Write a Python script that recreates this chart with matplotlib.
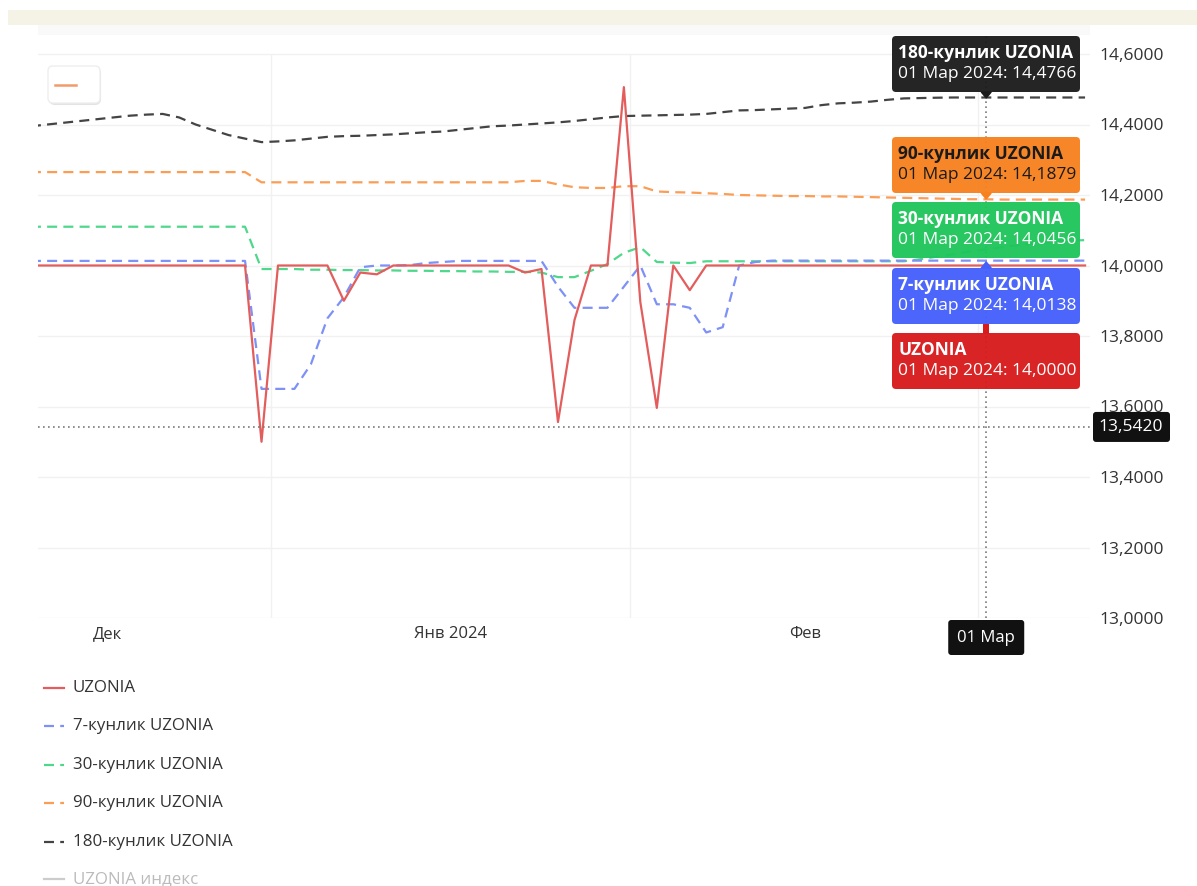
import matplotlib.pyplot as plt
import matplotlib.patches as mpatches
from matplotlib.ticker import FuncFormatter
import numpy as np

plt.rcParams['font.family'] = ['Open Sans', 'DejaVu Sans']

W, H = 1197, 886

# trading-day (bar) index of every point on the chart
bar_idx = np.arange(65)

uzonia = ([14.0] * 14
          + [13.50, 14.0, 14.0, 14.0, 14.0, 13.90, 13.98, 13.975]
          + [14.0] * 8
          + [13.98, 13.99, 13.556, 13.845, 14.0, 14.0, 14.506, 13.896, 13.596, 14.0, 13.93]
          + [14.0] * 24)

uzonia_7 = ([14.013] * 14
            + [13.65, 13.65, 13.65, 13.72, 13.85, 13.91, 13.995, 14.0, 14.0, 14.001, 14.007, 14.01]
            + [14.013] * 6
            + [13.94, 13.88, 13.88, 13.88, 13.94, 14.0, 13.89, 13.89, 13.88, 13.81, 13.825, 14.0, 14.01]
            + [14.0138] * 20)

uzonia_30 = ([14.11] * 14
             + [13.99, 13.99, 13.99, 13.988, 13.988, 13.987, 13.987, 13.986, 13.986, 13.985,
                13.985, 13.984, 13.984, 13.983, 13.983, 13.982, 13.982]
             + [13.98, 13.967, 13.967, 13.985, 14.004, 14.036, 14.052, 14.01, 14.008, 14.007]
             + [14.012] * 13
             + [14.018, 14.025, 14.032, 14.04, 14.0456, 14.052, 14.058, 14.063, 14.067, 14.07, 14.072])

uzonia_90 = ([14.265] * 14
             + [14.236] * 16 + [14.24, 14.24]
             + [14.23, 14.222, 14.22, 14.22, 14.225, 14.225, 14.21, 14.208, 14.207, 14.205,
                14.203, 14.2, 14.199, 14.198, 14.197, 14.197, 14.196, 14.196, 14.195, 14.194,
                14.193, 14.192, 14.191, 14.19, 14.189, 14.188, 14.1879]
             + [14.187] * 6)

uzonia_180 = [14.395, 14.40, 14.405, 14.41, 14.415, 14.42, 14.425, 14.428, 14.43, 14.42,
              14.40, 14.385, 14.37, 14.36, 14.35, 14.352, 14.355, 14.36, 14.365, 14.367,
              14.368, 14.37, 14.372, 14.375, 14.378, 14.38, 14.385, 14.39, 14.395, 14.397,
              14.40, 14.403, 14.406, 14.41, 14.415, 14.42, 14.424, 14.425, 14.426, 14.427,
              14.428, 14.43, 14.435, 14.44, 14.441, 14.443, 14.445, 14.447, 14.455, 14.46,
              14.462, 14.465, 14.47, 14.474, 14.475, 14.476, 14.4766, 14.4766, 14.4766, 14.4766,
              14.4766, 14.4766, 14.4766, 14.4766, 14.4766]

series_names = ['UZONIA', '7-кунлик UZONIA', '30-кунлик UZONIA', '90-кунлик UZONIA',
                '180-кунлик UZONIA', 'UZONIA индекс']
series_colors = ['#e35d5d', '#7d91f6', '#4fd88b', '#fb9d55', '#444444', '#cccccc']
series_dashed = [False, True, True, True, True, False]

# month labels and vertical grid positions (in bar index units)
month_labels = ['Дек', 'Янв 2024', 'Фев']
month_pos = [4.62, 25.5, 47.0]
vgrid_pos = [14.58, 36.4, 57.5]

y_ticks = [13.0, 13.2, 13.4, 13.6, 13.8, 14.0, 14.2, 14.4, 14.6]

# crosshair / tooltip
cross_idx = 58
cross_y = 13.542
cross_date = '01 Мар'
tip_date = '01 Мар 2024'
tip_names = ['180-кунлик UZONIA', '90-кунлик UZONIA', '30-кунлик UZONIA', '7-кунлик UZONIA', 'UZONIA']
tip_values = [14.4766, 14.1879, 14.0456, 14.0138, 14.0000]
tip_colors = ['#1c1c1c', '#f7811f', '#1fc55c', '#4460fb', '#d81b1d']
tip_text_colors = ['white', '#1a1a1a', 'white', 'white', 'white']
tip_tops = [36, 137, 202, 268, 333]


def comma(v, pos=None):
    return f'{v:.4f}'.replace('.', ',')


fig = plt.figure(figsize=(W / 100, H / 100), dpi=100)
fig.patch.set_facecolor('white')

# bands at the top of the page
ov = fig.add_axes([0, 0, 1, 1], zorder=0)
ov.set_xlim(0, W)
ov.set_ylim(H, 0)
ov.axis('off')
ov.add_patch(mpatches.Rectangle((8, 10), W - 8, 15, color='#f5f3e6', lw=0))
ov.add_patch(mpatches.Rectangle((38, 25), 1052, 10, color='#f9f9f9', lw=0))

ax_l, ax_r, ax_t, ax_b = 38, 1090, 35, 618
ax = fig.add_axes([ax_l / W, 1 - ax_b / H, (ax_r - ax_l) / W, (ax_b - ax_t) / H], zorder=1)
ax.patch.set_alpha(0)

all_series = [uzonia, uzonia_7, uzonia_30, uzonia_90, uzonia_180]
# draw the long averages first so UZONIA sits on top
for k in [4, 3, 2, 1, 0]:
    ls = (0, (4.5, 2.8)) if series_dashed[k] else '-'
    ax.plot(bar_idx, all_series[k], color=series_colors[k], lw=1.6, ls=ls, zorder=3)

ax.set_xlim(0.43, 64.3)
ax.set_ylim(13.0, 14.0 + (265.5 - 35) / 352.5)
for y in y_ticks:
    ax.axhline(y, color='#f1f1f1', lw=1, zorder=1)
ax.vlines(vgrid_pos, 13.0, 14.6, color='#f1f1f1', lw=1, zorder=1)

ax.yaxis.tick_right()
ax.set_yticks(y_ticks)
ax.yaxis.set_major_formatter(FuncFormatter(comma))
ax.set_xticks(month_pos)
ax.set_xticklabels(month_labels)
ax.tick_params(length=0, colors='#333333')
ax.tick_params(axis='y', pad=7, labelsize=12.5)
ax.tick_params(axis='x', pad=6, labelsize=12)
for s in ax.spines.values():
    s.set_visible(False)

# crosshair
ax.axvline(cross_idx, color='#7a7a7a', lw=1.2, ls=(0, (1, 2)), zorder=6)
ax.axhline(cross_y, color='#7a7a7a', lw=1.2, ls=(0, (1, 2)), zorder=6)

# overlay for tooltips, legend etc.
top = fig.add_axes([0, 0, 1, 1], zorder=5)
top.set_xlim(0, W)
top.set_ylim(H, 0)
top.axis('off')

cx = ax.transData.transform((cross_idx, 0))[0]
cy = H - ax.transData.transform((0, cross_y))[1]

# small legend box in top-left corner
top.add_patch(mpatches.FancyBboxPatch((50, 68), 50, 36, boxstyle='round,pad=0,rounding_size=5',
                                      fc='#fbfbfb', ec='#dddddd', lw=1.5, alpha=0.8))
top.add_patch(mpatches.FancyBboxPatch((48, 66), 52, 37, boxstyle='round,pad=0,rounding_size=5',
                                      fc='white', ec='#eeeeee', lw=1))
top.plot([55, 76], [85, 85], color='#f39a6b', lw=1.8)

# tooltips
bx0, bx1, bh = 892, 1080, 56
for name, val, col, tcol, t in zip(tip_names, tip_values, tip_colors, tip_text_colors, tip_tops):
    top.add_patch(mpatches.FancyBboxPatch((bx0, t), bx1 - bx0, bh,
                                          boxstyle='round,pad=0,rounding_size=4',
                                          fc=col, ec='none', alpha=0.96))
    top.text(bx0 + 6, t + 17, name, color=tcol, fontsize=12.5, fontweight='bold', va='center')
    top.text(bx0 + 6, t + 38, f'{tip_date}: {comma(val)}', color=tcol, fontsize=12.5, va='center')

# pointers
top.add_patch(mpatches.Polygon([[cx - 5, 92], [cx + 5, 92], [cx, 98]], color=tip_colors[0]))
top.add_patch(mpatches.Polygon([[cx - 5, 193], [cx + 5, 193], [cx, 199]], color=tip_colors[1]))
top.add_patch(mpatches.Polygon([[cx - 5, 268], [cx + 5, 268], [cx, 262]], color=tip_colors[3]))
top.add_patch(mpatches.Rectangle((cx - 3, 324), 6, 10, color=tip_colors[4], lw=0))

# axis crosshair labels
top.add_patch(mpatches.FancyBboxPatch((1093, cy - 15), 77, 30, boxstyle='round,pad=0,rounding_size=3',
                                      fc='#111111', ec='none'))
top.text(1131, cy, comma(cross_y), color='white', fontsize=12.5, ha='center', va='center')
top.add_patch(mpatches.FancyBboxPatch((cx - 38, 620), 76, 35, boxstyle='round,pad=0,rounding_size=3',
                                      fc='#111111', ec='none'))
top.text(cx, 638, cross_date, color='white', fontsize=12, ha='center', va='center')

# legend below chart
leg_y = [688, 726, 765, 803, 842, 879]
for name, col, dashed, y in zip(series_names, series_colors, series_dashed, leg_y):
    ls = (0, (4.5, 2.8)) if dashed else '-'
    top.plot([44, 64], [y, y], color=col, lw=1.6, ls=ls)
    tc = '#bbbbbb' if name == 'UZONIA индекс' else '#333333'
    top.text(73, y, name, color=tc, fontsize=12.2, va='center')

fig.savefig('out.png', dpi=100)
